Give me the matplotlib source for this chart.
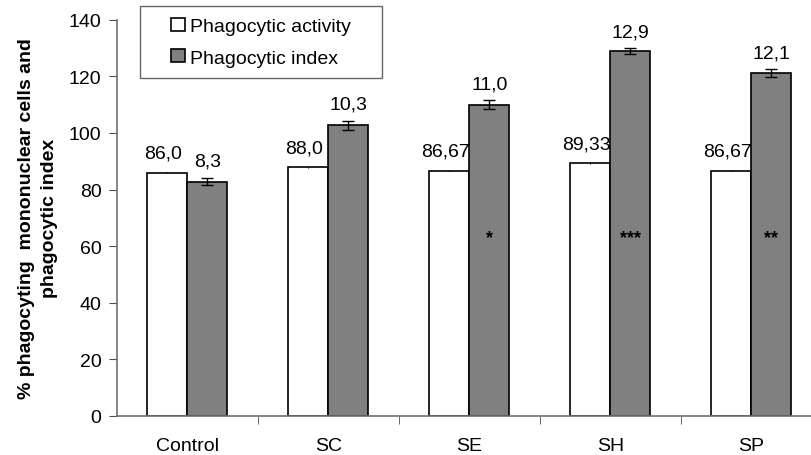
import numpy as np
import matplotlib.pyplot as plt
from matplotlib.patches import Rectangle
from matplotlib.legend_handler import HandlerPatch

plt.rcParams['font.family'] = ['Liberation Sans', 'DejaVu Sans']

# data
groups = ['Control', 'SC', 'SE', 'SH', 'SP']
activity = [86.0, 87.8, 86.67, 89.33, 86.67]
activity_err = [0.2, 0.2, 0.2, 0.2, 0.2]
index_vals = [82.8, 102.7, 110.0, 128.9, 121.1]
index_err = [1.3, 1.7, 1.5, 1.0, 1.4]
activity_labels = ['86,0', '88,0', '86,67', '89,33', '86,67']
index_labels = ['8,3', '10,3', '11,0', '12,9', '12,1']
stars = ['', '', '*', '***', '**']

fig = plt.figure(figsize=(8.12, 4.56), dpi=100)
ax = fig.add_axes([0.1437, 0.0862, 0.8563, 0.868])

x = np.arange(len(groups))
w = 0.284
b1 = ax.bar(x - w / 2, activity, w, color='white', edgecolor='black', linewidth=1.2,
            yerr=activity_err, error_kw=dict(ecolor='black', elinewidth=0.8, capsize=0))
b2 = ax.bar(x + w / 2, index_vals, w, color='#808080', edgecolor='black', linewidth=1.2,
            yerr=index_err, error_kw=dict(ecolor='black', elinewidth=1.0, capsize=4, capthick=1.0))

for i in range(len(groups)):
    ax.text(x[i] - w / 2 - 0.03, activity[i] + 5.3, activity_labels[i], ha='center', va='baseline', fontsize=14)
    ax.text(x[i] + w / 2, index_vals[i] + index_err[i] + 4.3, index_labels[i], ha='center', va='baseline', fontsize=14)
    if stars[i]:
        ax.text(x[i] + w / 2, 63, stars[i], ha='center', va='center', fontsize=13, fontweight='bold')

ax.set_xlim(-0.5, 4.43)
ax.set_ylim(0, 140)
ax.set_yticks(np.arange(0, 141, 20))
ax.set_xticks(x)
ax.set_xticklabels(groups, fontsize=14)
ax.tick_params(axis='x', length=0, pad=15)
ax.set_xticks(np.arange(0.5, 4.0, 1), minor=True)
ax.tick_params(axis='x', which='minor', length=6, direction='out', color='#505050')
ax.tick_params(axis='y', labelsize=14, length=6, direction='out', color='#505050', pad=5)

for s in ['top', 'right']:
    ax.spines[s].set_visible(False)
for s in ['left', 'bottom']:
    ax.spines[s].set_color('#707070')
    ax.spines[s].set_linewidth(1.2)

ax.set_ylabel('% phagocyting  mononuclear cells and\nphagocytic index', fontsize=14,
              fontweight='bold', labelpad=8, linespacing=1.45)


# small square legend keys, sitting just left of the text
def square_key(legend, orig_handle, xdescent, ydescent, width, height, fontsize):
    size = 0.68 * fontsize
    return Rectangle((-xdescent + width - size, -ydescent + (height - size) / 2), size, size)


h1, h2 = b1.patches[0], b2.patches[0]
leg = ax.legend([h1, h2], ['Phagocytic activity', 'Phagocytic index'],
                loc='upper left', bbox_to_anchor=(0.0335, 0.835, 0.348, 0.2), mode='expand',
                borderaxespad=0, fontsize=14, frameon=True, fancybox=False, edgecolor='#404040',
                handlelength=1.7, handletextpad=0.25, borderpad=0.6, labelspacing=0.7,
                handler_map={h1: HandlerPatch(patch_func=square_key),
                             h2: HandlerPatch(patch_func=square_key)})
leg.get_frame().set_linewidth(1.0)

fig.savefig('out.png', dpi=100)
